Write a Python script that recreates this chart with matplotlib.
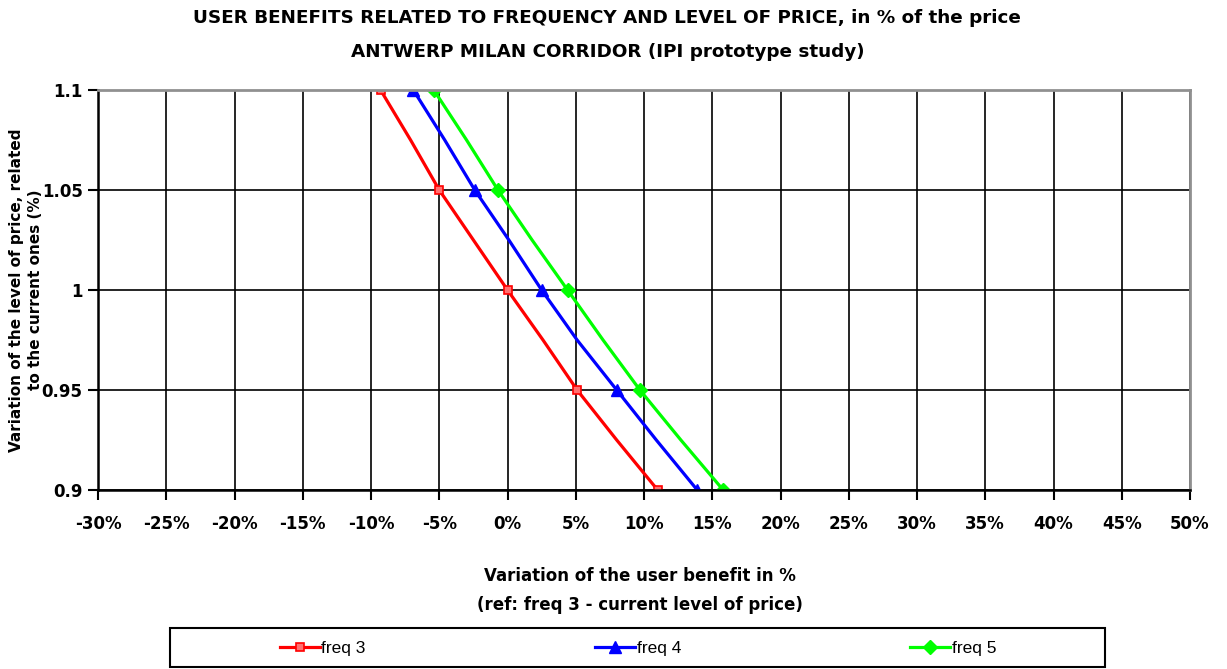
import numpy as np
import matplotlib.pyplot as plt
from matplotlib.ticker import FuncFormatter
from matplotlib.patches import Rectangle

# price level (y) and user benefit in % (x) for each frequency
price = [1.1, 1.075, 1.05, 1.025, 1.0, 0.975, 0.95, 0.925, 0.9]
freq3 = [-9.3, -7.1, -5.0, -2.5, 0.0, 2.6, 5.1, 8.0, 11.0]
freq4 = [-6.9, -4.6, -2.4, 0.1, 2.5, 5.1, 8.0, 10.9, 13.9]
freq5 = [-5.4, -3.0, -0.7, 1.8, 4.4, 7.0, 9.7, 12.7, 15.8]

x_ticks = list(range(-30, 51, 5))
y_ticks = [0.9, 0.95, 1.0, 1.05, 1.1]
y_labels = ["0.9", "0.95", "1", "1.05", "1.1"]

fig = plt.figure(figsize=(12.27, 6.69), dpi=100)
ax = fig.add_axes([98 / 1227, 1 - 490 / 669, 1092 / 1227, 400 / 669])

ax.plot(freq3, price, color="#ff0000", lw=2.3, marker="s", ms=6, mfc="#ff7070",
        mec="#ff0000", mew=1.2, markevery=2, label="freq 3")
ax.plot(freq4, price, color="#0000ff", lw=2.3, marker="^", ms=8,
        markevery=2, label="freq 4")
ax.plot(freq5, price, color="#00ff00", lw=2.3, marker="D", ms=7,
        markevery=2, label="freq 5")

ax.set_xlim(-30, 50)
ax.set_ylim(0.9, 1.1)
ax.set_xticks(x_ticks)
ax.xaxis.set_major_formatter(FuncFormatter(lambda v, p: f"{int(round(v))}%"))
ax.set_yticks(y_ticks)
ax.set_yticklabels(y_labels)
ax.grid(True, color="black", lw=1.2)
ax.set_axisbelow(True)
for s in ["top", "right"]:
    ax.spines[s].set_color("#909090")
    ax.spines[s].set_linewidth(2)
for s in ["left", "bottom"]:
    ax.spines[s].set_color("black")
    ax.spines[s].set_linewidth(1.8)
ax.tick_params(axis="x", direction="out", length=7, width=1.5, pad=11, labelsize=12)
ax.tick_params(axis="y", direction="out", length=7, width=1.5, pad=4, labelsize=12)
for lab in ax.get_xticklabels() + ax.get_yticklabels():
    lab.set_fontweight("bold")

fig.text(0.495, 1 - 18 / 669, "USER BENEFITS RELATED TO FREQUENCY AND LEVEL OF PRICE, in % of the price",
         ha="center", va="center", fontsize=13.2, fontweight="bold")
fig.text(0.495, 1 - 52 / 669, "ANTWERP MILAN CORRIDOR (IPI prototype study)",
         ha="center", va="center", fontsize=13.2, fontweight="bold")

fig.text(17 / 1227, 1 - 290 / 669, "Variation of the level of price, related",
         rotation=90, ha="center", va="center", fontsize=11, fontweight="bold")
fig.text(36 / 1227, 1 - 290 / 669, "to the current ones (%)",
         rotation=90, ha="center", va="center", fontsize=11, fontweight="bold")

fig.text(640 / 1227, 1 - 576 / 669, "Variation of the user benefit in %",
         ha="center", va="center", fontsize=12, fontweight="bold")
fig.text(640 / 1227, 1 - 605 / 669, "(ref: freq 3 - current level of price)",
         ha="center", va="center", fontsize=12, fontweight="bold")

# legend box drawn separately, entries spread across it
fig.patches.append(Rectangle((170 / 1227, 1 - 667 / 669), 935 / 1227, 39 / 669,
                             transform=fig.transFigure, fill=False,
                             edgecolor="black", lw=1.5))
leg = fig.legend(loc="center", ncol=3, bbox_to_anchor=(638 / 1227, 1 - 648 / 669),
                 frameon=False, handlelength=2.3,
                 handletextpad=0.1, columnspacing=13.2,
                 prop={"family": "Liberation Sans", "size": 12.5})

fig.savefig("out.png", dpi=100)
